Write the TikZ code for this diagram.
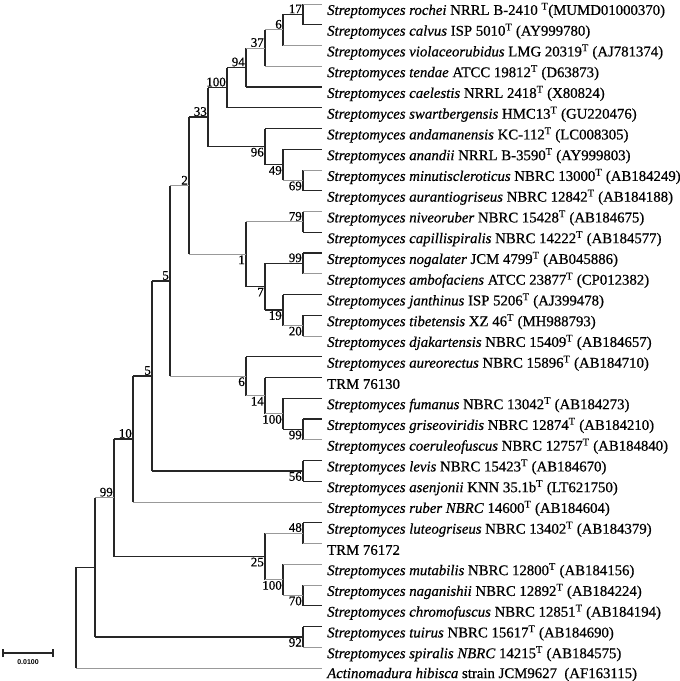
\documentclass[tikz,border=0pt]{standalone}
\usepackage{fontspec}
\setmainfont{Liberation Serif}[FakeBold=0.6]
\setsansfont{Liberation Sans}
\begin{document}
\begin{tikzpicture}[x=1pt,y=-1pt,
  dk/.style={draw=black!85,line width=1.3pt},
  gy/.style={draw=black!40,line width=0.9pt},
  leaf/.style={anchor=west,inner sep=0pt,font=\fontsize{14.8}{14.8}\selectfont},
  bsu/.style={anchor=south east,inner sep=1pt,font=\fontsize{13}{13}\selectfont},
  bsd/.style={anchor=north east,inner sep=1pt,font=\fontsize{13}{13}\selectfont}]
\useasboundingbox (0,0) rectangle (680,681);
\newcommand{\br}[3][dk]{\draw[dk] (#2) -- (#2|-#3); \draw[#1] (#2|-#3) -- (#3);}
\newcommand{\sT}{\textsuperscript{T}}
% leaves
\foreach \i/\y/\t in {
0/4/{\textit{Streptomyces rochei} NRRL B-2410 \sT(MUMD01000370)},
1/24.75/{\textit{Streptomyces calvus} ISP 5010\sT{} (AY999780)},
2/45.5/{\textit{Streptomyces violaceorubidus} LMG 20319\sT{} (AJ781374)},
3/66.25/{\textit{Streptomyces tendae} ATCC 19812\sT{} (D63873)},
4/87/{\textit{Streptomyces caelestis} NRRL 2418\sT{} (X80824)},
5/107.75/{\textit{Streptomyces swartbergensis} HMC13\sT{} (GU220476)},
6/128.5/{\textit{Streptomyces andamanensis} KC-112\sT{} (LC008305)},
7/149.25/{\textit{Streptomyces anandii} NRRL B-3590\sT{} (AY999803)},
8/170/{\textit{Streptomyces minutiscleroticus} NBRC 13000\sT{} (AB184249)},
9/190.75/{\textit{Streptomyces aurantiogriseus} NBRC 12842\sT{} (AB184188)},
10/211.5/{\textit{Streptomyces niveoruber} NBRC 15428\sT{} (AB184675)},
11/232.25/{\textit{Streptomyces capillispiralis} NBRC 14222\sT{} (AB184577)},
12/253/{\textit{Streptomyces nogalater} JCM 4799\sT{} (AB045886)},
13/273.75/{\textit{Streptomyces ambofaciens} ATCC 23877\sT{} (CP012382)},
14/294.5/{\textit{Streptomyces janthinus} ISP 5206\sT{} (AJ399478)},
15/315.25/{\textit{Streptomyces tibetensis} XZ 46\sT{} (MH988793)},
16/336/{\textit{Streptomyces djakartensis} NBRC 15409\sT{} (AB184657)},
17/356.75/{\textit{Streptomyces aureorectus} NBRC 15896\sT{} (AB184710)},
18/377.5/{TRM 76130},
19/398.25/{\textit{Streptomyces fumanus} NBRC 13042\sT{} (AB184273)},
20/419/{\textit{Streptomyces griseoviridis} NBRC 12874\sT{} (AB184210)},
21/439.75/{\textit{Streptomyces coeruleofuscus} NBRC 12757\sT{} (AB184840)},
22/460.5/{\textit{Streptomyces levis} NBRC 15423\sT{} (AB184670)},
23/481.25/{\textit{Streptomyces asenjonii} KNN 35.1b\sT{} (LT621750)},
24/502/{\textit{Streptomyces ruber NBRC} 14600\sT{} (AB184604)},
25/522.75/{\textit{Streptomyces luteogriseus} NBRC 13402\sT{} (AB184379)},
26/543.5/{TRM 76172},
27/564.25/{\textit{Streptomyces mutabilis} NBRC 12800\sT{} (AB184156)},
28/585/{\textit{Streptomyces naganishii} NBRC 12892\sT{} (AB184224)},
29/605.75/{\textit{Streptomyces chromofuscus} NBRC 12851\sT{} (AB184194)},
30/626.5/{\textit{Streptomyces tuirus} NBRC 15617\sT{} (AB184690)},
31/647.25/{\textit{Streptomyces spiralis NBRC} 14215\sT{} (AB184575)},
32/668/{\textit{Actinomadura hibisca} strain JCM9627 \ (AF163115) }}
{\coordinate (l\i) at (322,\y); \node[leaf] (t\i) at (327,\y+6.5) {\t};}
% internal nodes
\coordinate (n17) at (303,14.4);
\coordinate (n6) at (283,29.9);
\coordinate (n37) at (265,48.1);
\coordinate (n94) at (246,67.5);
\coordinate (n100) at (227,87.6);
\coordinate (n69) at (303,180.4);
\coordinate (n49) at (283,164.8);
\coordinate (n96) at (265,146.6);
\coordinate (n33) at (208,117.1);
\coordinate (n79) at (303,221.9);
\coordinate (n99a) at (303,263.4);
\coordinate (n20) at (303,325.6);
\coordinate (n19) at (283,310);
\coordinate (n7) at (265,286.7);
\coordinate (n1) at (246,254.3);
\coordinate (n2) at (189,185.7);
\coordinate (n99b) at (303,429.4);
\coordinate (n100b) at (283,413.8);
\coordinate (n14) at (265,395.7);
\coordinate (n6b) at (246,376.2);
\coordinate (n5a) at (170,281);
\coordinate (n56) at (303,470.9);
\coordinate (n5b) at (152,376);
\coordinate (n10) at (133,439);
\coordinate (n48) at (303,533.1);
\coordinate (n70) at (303,595.4);
\coordinate (n100c) at (283,579.8);
\coordinate (n25) at (265,556.5);
\coordinate (n99) at (114,497.7);
\coordinate (n92) at (303,636.9);
\coordinate (nx) at (95,567.3);
\coordinate (root) at (76,567.3);
% branches
\br[gy]{n17}{l0} \br{n17}{l1}
\br{n6}{n17} \br[gy]{n6}{l2}
\br[gy]{n37}{n6} \br[gy]{n37}{l3}
\br[gy]{n94}{n37} \br{n94}{l4}
\br{n100}{n94} \br{n100}{l5}
\br[gy]{n69}{l8} \br{n69}{l9}
\br{n49}{l7} \br[gy]{n49}{n69}
\br{n96}{l6} \br{n96}{n49}
\br{n33}{n100} \br{n33}{n96}
\br[gy]{n79}{l10} \br{n79}{l11}
\br{n99a}{l12} \br[gy]{n99a}{l13}
\br{n20}{l15} \br[gy]{n20}{l16}
\br{n19}{l14} \br[gy]{n19}{n20}
\br{n7}{n99a} \br{n7}{n19}
\br[gy]{n1}{n79} \br{n1}{n7}
\br{n2}{n33} \br[gy]{n2}{n1}
\br{n99b}{l20} \br[gy]{n99b}{l21}
\br{n100b}{l19} \br{n100b}{n99b}
\br{n14}{l18} \br[gy]{n14}{n100b}
\br{n6b}{l17} \br[gy]{n6b}{n14}
\br[gy]{n5a}{n2} \br[gy]{n5a}{n6b}
\br{n56}{l22} \br{n56}{l23}
\br{n5b}{n5a} \br{n5b}{n56}
\br{n10}{n5b} \br[gy]{n10}{l24}
\br{n48}{l25} \br[gy]{n48}{l26}
\br[gy]{n70}{l28} \br{n70}{l29}
\br[gy]{n100c}{l27} \br[gy]{n100c}{n70}
\br[gy]{n25}{n48} \br[gy]{n25}{n100c}
\br{n99}{n10} \br{n99}{n25}
\br{n92}{l30} \br[gy]{n92}{l31}
\br[gy]{nx}{n99} \br{nx}{n92}
\br{root}{nx} \br[gy]{root}{l32}
% bootstrap labels
\node[bsu] at (n17) {17};
\node[bsu] at (n6) {6};
\node[bsu] at (n37) {37};
\node[bsu] at (n94) {94};
\node[bsu] at (n100) {100};
\node[bsu] at (n33) {33};
\node[bsd] at (n96) {96};
\node[bsd] at (n49) {49};
\node[bsd] at (n69) {69};
\node[bsu] at (n79) {79};
\node[bsu] at (n99a) {99};
\node[bsd] at (n1) {1};
\node[bsd] at (n7) {7};
\node[bsd] at (n19) {19};
\node[bsd] at (n20) {20};
\node[bsu] at (n2) {2};
\node[bsu] at (n5a) {5};
\node[bsd] at (n6b) {6};
\node[bsd] at (n14) {14};
\node[bsd] at (n100b) {100};
\node[bsd] at (n99b) {99};
\node[bsu] at (n5b) {5};
\node[bsd] at (n56) {56};
\node[bsu] at (n10) {10};
\node[bsu] at (n48) {48};
\node[bsd] at (n25) {25};
\node[bsd] at (n100c) {100};
\node[bsd] at (n70) {70};
\node[bsu] at (n99) {99};
\node[bsd] at (n92) {92};
% scale bar
\coordinate (s1) at (3,653);
\coordinate (s2) at (53,653);
\draw[dk] (s1) -- (s2);
\draw[dk] ([yshift=-4pt]s1) -- ([yshift=4pt]s1);
\draw[dk] ([yshift=-4pt]s2) -- ([yshift=4pt]s2);
\node[font=\sffamily\bfseries\fontsize{7}{7}\selectfont,anchor=north] at (28,656) {0.0100};
\end{tikzpicture}
\end{document}
